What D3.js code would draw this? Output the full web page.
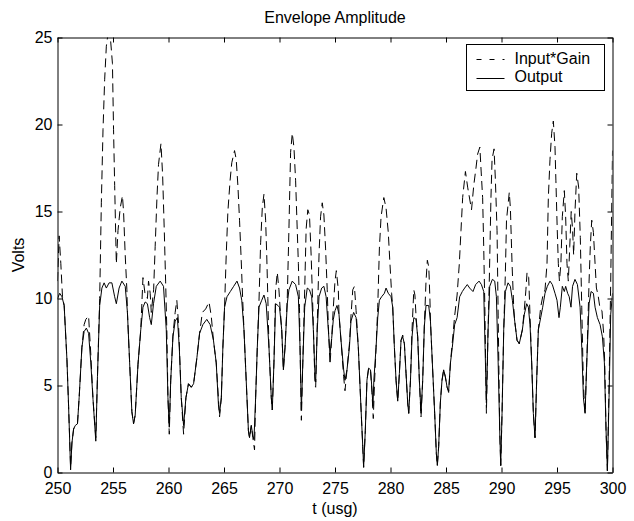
<!DOCTYPE html>
<html>
<head>
<meta charset="utf-8">
<script src="https://cdn.jsdelivr.net/npm/d3@7"></script>
<style>
  body { margin: 0; background: #fff; }
  svg text { font-family: "Liberation Sans", Arial, sans-serif; fill: #000; }
</style>
</head>
<body>
<div id="chart"></div>
<script>
// tick values
const xTicks = [250, 255, 260, 265, 270, 275, 280, 285, 290, 295, 300];
const yTicks = [0, 5, 10, 15, 20, 25];
const seriesNames = ["Input*Gain", "Output"];

// Output envelope [t, volts]
const outputPts = [
  [250.0,10.0],[250.2,10.3],[250.4,10.1],[250.6,9.6],[250.85,6.5],[251.0,3.8],[251.18,0.15],[251.3,1.7],
  [251.45,2.5],[251.6,2.7],[251.8,2.8],[251.95,4.3],[252.2,7.2],[252.4,8.1],[252.6,8.3],[252.8,8.0],
  [253.0,6.3],[253.2,4.2],[253.45,1.8],[253.6,5.5],[253.8,9.6],[254.0,10.6],[254.2,10.9],[254.4,10.6],
  [254.65,10.9],[254.9,10.9],[255.15,10.1],[255.3,9.7],[255.55,10.6],[255.8,11.0],[256.1,10.7],[256.3,9.2],
  [256.5,6.3],[256.7,3.5],[256.85,2.8],[257.0,3.3],[257.25,6.2],[257.5,8.2],[257.7,9.5],[257.9,9.8],
  [258.1,9.7],[258.3,8.9],[258.45,8.5],[258.65,9.7],[258.9,10.7],[259.25,11.0],[259.55,10.7],[259.8,8.2],
  [259.95,4.3],[260.07,2.6],[260.2,5.3],[260.4,7.8],[260.6,8.7],[260.8,8.9],[260.97,7.2],[261.15,4.3],
  [261.36,2.7],[261.57,4.3],[261.8,5.1],[262.05,4.9],[262.26,5.1],[262.56,6.6],[262.8,8.0],[263.1,8.5],
  [263.45,8.8],[263.75,8.5],[264.05,7.6],[264.3,6.3],[264.5,3.9],[264.6,3.4],[264.76,4.3],[264.9,7.2],
  [265.05,9.5],[265.27,10.1],[265.57,10.4],[265.87,10.7],[266.17,11.0],[266.4,10.6],[266.6,9.9],[266.8,8.2],
  [267.0,5.3],[267.2,2.4],[267.3,2.0],[267.46,2.7],[267.6,2.1],[267.7,1.9],[267.85,4.3],[268.0,7.2],
  [268.15,9.5],[268.4,9.9],[268.6,10.2],[268.8,9.7],[269.05,7.2],[269.26,4.3],[269.35,3.6],[269.5,6.3],
  [269.65,9.7],[269.86,9.6],[270.0,9.5],[270.2,8.2],[270.35,5.9],[270.5,7.2],[270.7,9.7],[270.85,10.5],
  [271.15,11.0],[271.45,10.8],[271.7,10.1],[271.85,7.2],[271.97,3.6],[272.1,6.3],[272.27,9.5],[272.5,10.6],
  [272.7,10.5],[272.9,10.1],[273.05,8.2],[273.2,5.5],[273.26,5.2],[273.4,8.2],[273.56,10.1],[273.8,10.6],
  [274.0,10.7],[274.2,10.1],[274.4,8.2],[274.55,6.8],[274.7,7.7],[274.85,8.8],[275.0,9.3],[275.18,9.6],
  [275.36,9.1],[275.54,7.6],[275.78,5.9],[275.9,5.3],[276.08,5.9],[276.3,7.2],[276.44,8.7],[276.68,9.2],
  [276.9,8.9],[277.1,7.2],[277.3,4.3],[277.5,1.5],[277.58,0.3],[277.73,2.4],[277.88,5.3],[278.03,6.0],
  [278.2,5.9],[278.33,4.8],[278.42,3.8],[278.5,5.3],[278.7,7.2],[278.85,8.9],[279.0,9.9],[279.2,10.1],
  [279.45,10.3],[279.6,10.6],[279.8,10.3],[280.05,10.1],[280.2,9.5],[280.35,7.2],[280.5,5.3],[280.65,4.1],
  [280.8,5.7],[280.95,7.6],[281.1,7.8],[281.25,7.4],[281.4,5.7],[281.55,4.0],[281.64,3.4],[281.8,5.3],
  [281.94,7.8],[282.1,8.9],[282.3,8.8],[282.45,7.8],[282.6,5.3],[282.75,3.4],[282.9,5.3],[283.05,8.4],
  [283.2,9.6],[283.44,9.6],[283.6,8.7],[283.77,6.3],[283.98,3.4],[284.13,1.1],[284.22,0.4],[284.34,1.5],
  [284.49,4.0],[284.64,5.3],[284.79,5.9],[284.94,5.5],[285.1,4.9],[285.24,4.7],[285.4,6.3],[285.57,7.2],
  [285.78,8.5],[286.0,8.9],[286.23,10.1],[286.47,10.4],[286.68,10.6],[286.92,10.8],[287.13,10.6],[287.43,10.4],
  [287.67,10.8],[287.98,11.0],[288.19,10.8],[288.4,10.4],[288.52,7.2],[288.64,4.0],[288.79,8.2],[288.94,10.7],
  [289.18,11.1],[289.39,11.0],[289.54,10.1],[289.7,6.3],[289.84,2.4],[289.93,0.4],[290.05,3.4],[290.2,8.2],
  [290.35,10.4],[290.59,10.9],[290.8,10.7],[290.98,9.9],[291.19,8.7],[291.4,7.6],[291.6,7.4],[291.88,8.2],
  [292.06,9.1],[292.27,9.7],[292.42,9.5],[292.57,8.5],[292.72,6.3],[292.87,3.4],[293.02,2.0],[293.17,5.3],
  [293.32,8.2],[293.53,8.9],[293.71,9.5],[293.92,10.3],[294.13,10.7],[294.37,11.0],[294.58,10.8],[294.82,10.3],
  [295.0,9.9],[295.18,8.9],[295.3,9.5],[295.48,10.7],[295.66,10.4],[295.78,10.7],[295.96,10.3],[296.1,10.1],
  [296.26,9.5],[296.4,10.7],[296.62,11.1],[296.84,10.8],[297.08,9.5],[297.23,7.2],[297.38,4.3],[297.53,3.4],
  [297.68,6.3],[297.89,9.7],[298.07,10.4],[298.28,10.3],[298.43,9.5],[298.64,8.9],[298.88,8.5],[299.09,7.8],
  [299.27,6.3],[299.42,2.4],[299.54,0.1],[299.69,4.3],[299.84,9.1],[300.0,10.3]
];

// Input*Gain envelope [t, volts]
const inputPts = [
  [250.0,11.0],[250.15,13.6],[250.3,12.0],[250.45,10.1],[250.6,9.6],[250.85,6.5],[251.0,3.8],[251.18,0.3],
  [251.3,1.7],[251.45,2.5],[251.6,2.7],[251.8,2.8],[251.95,4.3],[252.2,7.2],[252.4,8.5],[252.55,8.8],
  [252.8,9.0],[253.0,6.8],[253.2,4.2],[253.45,2.0],[253.6,5.5],[253.8,10.0],[253.95,15.5],[254.1,19.7],
  [254.25,22.6],[254.4,24.5],[254.55,25.2],[254.75,25.1],[254.95,23.5],[255.05,19.7],[255.15,16.5],[255.3,12.0],
  [255.45,13.9],[255.65,15.2],[255.85,15.9],[255.95,15.0],[256.1,12.5],[256.25,10.5],[256.3,9.2],[256.5,6.3],
  [256.7,3.5],[256.85,2.8],[257.0,3.3],[257.25,6.2],[257.5,8.2],[257.7,11.2],[257.9,10.2],[258.1,10.0],
  [258.2,11.0],[258.35,10.3],[258.45,9.2],[258.66,10.5],[258.8,13.0],[258.96,15.8],[259.1,17.7],[259.32,18.9],
  [259.47,17.1],[259.62,13.9],[259.74,11.0],[259.85,8.2],[259.95,4.3],[260.07,2.2],[260.2,5.3],[260.4,7.9],
  [260.6,9.2],[260.75,9.9],[260.9,8.6],[261.15,4.3],[261.36,2.2],[261.57,4.3],[261.8,5.1],[262.05,4.9],
  [262.26,5.1],[262.56,6.6],[262.8,8.0],[263.05,9.2],[263.35,9.4],[263.65,9.8],[263.85,9.0],[264.05,7.6],
  [264.3,6.3],[264.6,3.2],[264.76,4.3],[264.9,7.2],[265.05,9.5],[265.2,12.5],[265.35,15.0],[265.55,16.8],
  [265.7,17.8],[265.95,18.5],[266.1,18.0],[266.25,16.5],[266.4,14.5],[266.55,12.2],[266.68,10.0],[266.8,8.2],
  [267.0,5.3],[267.2,2.4],[267.3,2.0],[267.46,2.7],[267.6,2.0],[267.75,1.3],[267.85,4.3],[268.0,7.2],
  [268.15,9.8],[268.3,13.2],[268.45,15.2],[268.6,16.0],[268.75,14.5],[268.85,12.5],[268.95,10.0],[269.05,7.2],
  [269.26,4.3],[269.35,3.6],[269.5,6.3],[269.65,10.5],[269.8,11.5],[269.95,10.5],[270.05,9.5],[270.2,8.2],
  [270.35,5.9],[270.5,7.2],[270.7,10.0],[270.85,14.0],[271.0,18.4],[271.15,19.5],[271.3,18.7],[271.45,16.8],
  [271.6,13.9],[271.7,12.0],[271.8,9.5],[271.85,7.2],[271.97,3.0],[272.1,6.3],[272.27,10.5],[272.4,14.0],
  [272.55,15.1],[272.7,14.8],[272.85,12.5],[273.0,9.5],[273.2,5.0],[273.26,4.9],[273.4,8.5],[273.56,12.5],
  [273.7,14.7],[273.85,15.5],[274.0,14.8],[274.15,12.9],[274.3,10.5],[274.4,8.4],[274.55,6.2],[274.7,7.7],
  [274.85,9.5],[275.0,11.0],[275.12,11.6],[275.3,10.5],[275.36,9.1],[275.54,7.6],[275.78,5.5],[275.9,4.7],
  [276.08,5.9],[276.3,7.4],[276.44,9.0],[276.6,10.5],[276.75,10.7],[276.9,9.3],[277.1,7.2],[277.3,4.3],
  [277.5,1.5],[277.58,0.3],[277.73,2.4],[277.88,5.3],[278.03,6.0],[278.2,5.9],[278.33,4.6],[278.45,3.1],
  [278.55,5.0],[278.7,7.2],[278.85,9.5],[279.0,12.9],[279.15,14.7],[279.4,15.8],[279.6,15.2],[279.8,13.8],
  [279.95,12.0],[280.1,10.3],[280.2,9.5],[280.35,7.2],[280.5,5.3],[280.65,4.1],[280.8,5.7],[280.95,7.6],
  [281.1,7.9],[281.25,7.4],[281.4,5.7],[281.55,4.0],[281.64,3.4],[281.8,5.3],[281.94,8.2],[282.1,10.5],
  [282.2,10.2],[282.3,9.0],[282.45,7.8],[282.6,5.3],[282.75,3.2],[282.9,5.3],[283.05,8.5],[283.2,11.0],
  [283.32,12.2],[283.45,11.8],[283.55,10.0],[283.6,8.7],[283.77,6.3],[283.98,3.4],[284.13,1.1],[284.22,0.4],
  [284.34,1.5],[284.49,4.0],[284.64,5.3],[284.79,5.9],[284.94,5.5],[285.1,4.9],[285.24,4.6],[285.4,6.3],
  [285.57,7.5],[285.78,9.0],[286.0,10.2],[286.2,12.0],[286.35,13.9],[286.5,15.8],[286.75,17.3],[286.95,16.4],
  [287.3,15.1],[287.5,16.5],[287.7,17.5],[287.85,18.3],[288.05,18.7],[288.15,17.5],[288.3,15.8],[288.4,12.9],
  [288.5,9.5],[288.64,3.4],[288.79,8.2],[288.9,11.0],[289.05,15.8],[289.15,18.0],[289.33,18.6],[289.45,16.8],
  [289.6,13.9],[289.7,9.0],[289.84,2.4],[289.93,0.4],[290.05,3.4],[290.2,8.2],[290.35,11.5],[290.45,14.5],
  [290.7,16.1],[290.8,15.2],[290.95,12.0],[291.1,9.5],[291.19,8.7],[291.4,7.6],[291.6,7.4],[291.88,8.2],
  [292.06,9.4],[292.2,10.5],[292.3,11.5],[292.45,11.2],[292.57,9.0],[292.72,6.3],[292.87,3.4],[293.02,2.0],
  [293.17,5.3],[293.32,8.2],[293.53,9.5],[293.71,10.1],[293.92,10.5],[294.1,12.0],[294.22,15.8],[294.37,18.0],
  [294.52,19.5],[294.67,20.2],[294.82,18.7],[294.9,16.8],[295.02,14.0],[295.12,12.0],[295.22,11.0],[295.35,12.0],
  [295.48,14.7],[295.66,16.2],[295.78,14.7],[295.9,12.0],[296.02,11.0],[296.15,13.0],[296.28,15.0],[296.4,14.0],
  [296.5,12.5],[296.62,15.0],[296.78,17.2],[296.95,16.4],[297.1,13.5],[297.23,9.5],[297.38,5.0],[297.53,3.4],
  [297.68,6.3],[297.89,11.0],[298.0,13.0],[298.13,14.5],[298.28,13.8],[298.43,12.0],[298.55,10.6],[298.7,10.2],
  [298.88,9.4],[299.05,9.3],[299.2,8.0],[299.3,6.3],[299.42,2.4],[299.54,0.1],[299.69,5.0],[299.84,11.0],
  [300.0,18.5]
];

const width = 634, height = 521;
const plot = { left: 57.5, right: 612.5, top: 37.5, bottom: 472.5 };

const svg = d3.select("#chart")
  .append("svg")
  .attr("width", width)
  .attr("height", height);

const x = d3.scaleLinear().domain([250, 300]).range([plot.left, plot.right]);
const y = d3.scaleLinear().domain([0, 25]).range([plot.bottom, plot.top]);

// clip the traces to the axes box
svg.append("clipPath").attr("id", "clip")
  .append("rect")
  .attr("x", plot.left).attr("y", plot.top)
  .attr("width", plot.right - plot.left).attr("height", plot.bottom - plot.top);

const line = d3.line().x(d => x(d[0])).y(d => y(d[1]));

const traces = svg.append("g").attr("clip-path", "url(#clip)");

traces.append("path")
  .datum(inputPts)
  .attr("fill", "none")
  .attr("stroke", "#000")
  .attr("stroke-width", 1)
  .attr("stroke-dasharray", "9,5")
  .attr("d", line);

traces.append("path")
  .datum(outputPts)
  .attr("fill", "none")
  .attr("stroke", "#000")
  .attr("stroke-width", 1)
  .attr("d", line);

// axes, ticks pointing inward on all four sides
const styleAxis = g => {
  g.selectAll("path.domain").attr("stroke", "#000");
  g.selectAll(".tick line").attr("stroke", "#000");
  g.selectAll("text")
    .style("font-family", "'Liberation Sans', Arial, sans-serif")
    .style("font-size", "16px")
    .attr("fill", "#000");
};

svg.append("g")
  .attr("transform", `translate(0,${plot.bottom})`)
  .call(d3.axisBottom(x).tickValues(xTicks).tickSizeInner(-5).tickSizeOuter(0).tickPadding(10).tickFormat(d3.format("d")))
  .call(styleAxis);

svg.append("g")
  .attr("transform", `translate(0,${plot.top})`)
  .call(d3.axisTop(x).tickValues(xTicks).tickSizeInner(-5).tickSizeOuter(0).tickFormat(""))
  .call(styleAxis);

svg.append("g")
  .attr("transform", `translate(${plot.left},0)`)
  .call(d3.axisLeft(y).tickValues(yTicks).tickSizeInner(-5).tickSizeOuter(0).tickPadding(5).tickFormat(d3.format("d")))
  .call(styleAxis);

svg.append("g")
  .attr("transform", `translate(${plot.right},0)`)
  .call(d3.axisRight(y).tickValues(yTicks).tickSizeInner(-5).tickSizeOuter(0).tickFormat(""))
  .call(styleAxis);

// title and axis labels
svg.append("text")
  .attr("x", (plot.left + plot.right) / 2)
  .attr("y", 23)
  .attr("text-anchor", "middle")
  .attr("font-size", "16px")
  .text("Envelope Amplitude");

svg.append("text")
  .attr("x", (plot.left + plot.right) / 2)
  .attr("y", 514)
  .attr("text-anchor", "middle")
  .attr("font-size", "16px")
  .text("t (usg)");

svg.append("text")
  .attr("transform", "rotate(-90)")
  .attr("x", -(plot.top + plot.bottom) / 2)
  .attr("y", 24)
  .attr("text-anchor", "middle")
  .attr("font-size", "16px")
  .text("Volts");

// legend
const legend = svg.append("g").attr("transform", "translate(466.5,44.5)");

legend.append("rect")
  .attr("width", 138)
  .attr("height", 46)
  .attr("fill", "#fff")
  .attr("stroke", "#000");

legend.append("line")
  .attr("x1", 10).attr("x2", 38)
  .attr("y1", 15).attr("y2", 15)
  .attr("stroke", "#000")
  .attr("stroke-dasharray", "5,8");

legend.append("line")
  .attr("x1", 10).attr("x2", 38)
  .attr("y1", 34).attr("y2", 34)
  .attr("stroke", "#000");

legend.append("text")
  .attr("x", 48).attr("y", 19)
  .attr("font-size", "16px")
  .text(seriesNames[0]);

legend.append("text")
  .attr("x", 48).attr("y", 37)
  .attr("font-size", "16px")
  .text(seriesNames[1]);
</script>
</body>
</html>
